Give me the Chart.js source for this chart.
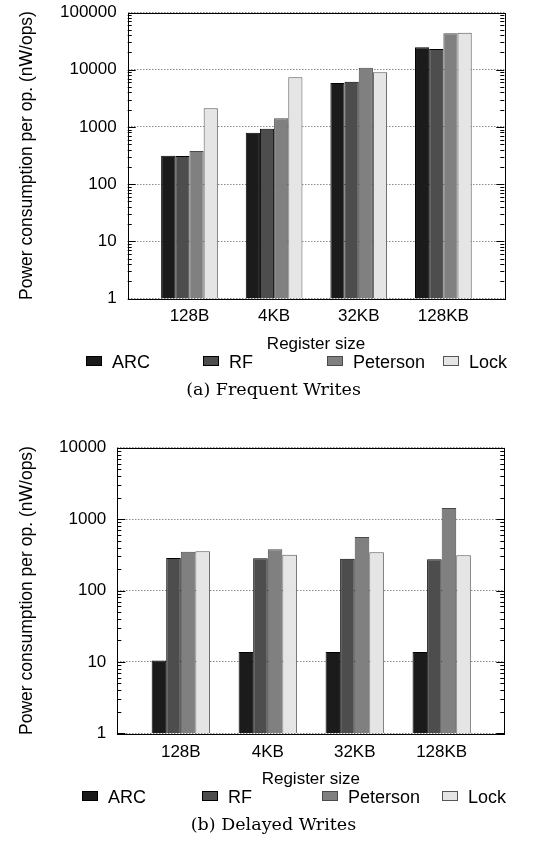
<!DOCTYPE html>
<html>
<head>
<meta charset="utf-8">
<script src="https://cdn.jsdelivr.net/npm/chart.js@4.4.0/dist/chart.umd.min.js"></script>
<style>
  body { margin: 0; background: #fff; }
  #page { position: relative; width: 547px; height: 850px; font-family: 'Liberation Sans', Arial, sans-serif; }
  canvas { position: absolute; left: 0; }
  .legend { position: absolute; left: 0; width: 547px; height: 20px; font-size: 18px; color: #000; }
  .legend .item { position: absolute; top: 0; white-space: nowrap; line-height: 20px; }
  .legend .box { display: inline-block; width: 14px; height: 8px; border: 1px solid #000; margin-right: 10px; vertical-align: 2px; }
  .caption { position: absolute; left: 0; width: 547px; text-align: center; font-family: 'DejaVu Serif', serif; font-size: 17.5px; color: #000; }
</style>
</head>
<body>
<div id="page">
  <canvas id="chart1" width="547" height="355" style="top:0"></canvas>
  <div class="legend" id="legend1" style="top:352px"></div>
  <div class="caption" style="top:379px">(a) Frequent Writes</div>

  <canvas id="chart2" width="547" height="360" style="top:430px"></canvas>
  <div class="legend" id="legend2" style="top:787px"></div>
  <div class="caption" style="top:814px">(b) Delayed Writes</div>
</div>
<script>
const sizes = ["128B", "4KB", "32KB", "128KB"];
const methods = ["ARC", "RF", "Peterson", "Lock"];

// frequent writes (nW/ops)
const freqARC = [314, 792, 5850, 24600];
const freqRF = [310, 930, 6170, 23000];
const freqPeterson = [379, 1415, 10800, 43300];
const freqLock = [2115, 7360, 9020, 44400];

// delayed writes (nW/ops)
const delARC = [10.5, 13.8, 13.8, 13.8];
const delRF = [285, 282, 279, 274];
const delPeterson = [349, 378, 561, 1430];
const delLock = [354, 317, 343, 311];

const yTicks1 = [1, 10, 100, 1000, 10000, 100000];
const yTicks2 = [1, 10, 100, 1000, 10000];

const fills = ["#1b1b1b", "#4d4d4d", "#808080", "#e5e5e5"];
const edges = ["#000000", "#000000", "#4a4a4a", "#555555"];

Chart.defaults.font.family = "'Liberation Sans', Arial, sans-serif";
Chart.defaults.font.size = 17;
Chart.defaults.color = "#000";

// gnuplot style frame + inner minor ticks
const framePlugin = {
    id: 'frame',
    afterDatasetsDraw(chart) {
        const {ctx, chartArea: a, scales} = chart;
        const y = scales.y;
        ctx.save();
        ctx.strokeStyle = '#000';
        ctx.lineWidth = 1;
        ctx.beginPath();
        let d = y.min;
        while (d < y.max) {
            for (let k = 1; k <= 9; k++) {
                const v = d * k;
                if (v > y.max) break;
                const py = Math.round(y.getPixelForValue(v)) + 0.5;
                const len = k === 1 ? 8 : 4;
                ctx.moveTo(a.left, py); ctx.lineTo(a.left + len, py);
                ctx.moveTo(a.right, py); ctx.lineTo(a.right - len, py);
            }
            d *= 10;
        }
        ctx.stroke();
        ctx.strokeRect(Math.round(a.left) + 0.5, Math.round(a.top) + 0.5,
            Math.round(a.right - a.left), Math.round(a.bottom - a.top));
        ctx.restore();
    }
};

function makeChart(id, series, yTicks, opts) {
    const ctx = document.getElementById(id).getContext("2d");
    const datasets = series.map((vals, i) => ({
        label: methods[i],
        data: vals.map((v, j) => ({x: j, y: v})),
        backgroundColor: fills[i],
        borderColor: edges[i],
        borderWidth: 1,
        barPercentage: 1.0,
        categoryPercentage: 0.67,
    }));
    return new Chart(ctx, {
        type: 'bar',
        data: {datasets},
        plugins: [framePlugin],
        options: {
            responsive: false,
            animation: false,
            layout: {padding: {left: 16.5, right: 42.7, top: opts.top, bottom: 0}},
            plugins: {legend: {display: false}, tooltip: {enabled: false}},
            scales: {
                x: {
                    type: 'linear',
                    offset: false,
                    bounds: 'ticks',
                    min: -0.73,
                    max: 3.72,
                    grid: {display: false, drawTicks: false},
                    border: {display: false},
                    afterBuildTicks: (s) => { s.ticks = sizes.map((_, i) => ({value: i})); },
                    afterFit: (s) => { s.height = opts.xHeight; },
                    ticks: {
                        autoSkip: false,
                        maxRotation: 0,
                        padding: opts.xPad,
                        callback: (v) => sizes[v],
                    },
                    title: {display: true, text: 'Register size', padding: 0},
                },
                y: {
                    type: 'logarithmic',
                    min: yTicks[0],
                    max: yTicks[yTicks.length - 1],
                    afterBuildTicks: (s) => { s.ticks = yTicks.map(v => ({value: v})); },
                    afterFit: (s) => {
                        s.width = opts.yWidth;
                        s.paddingTop = 0;
                        s.paddingBottom = 0;
                    },
                    grid: {
                        color: '#8a8a8a',
                        lineWidth: 1,
                        drawTicks: false,
                    },
                    border: {display: false, dash: [1.5, 1.5]},
                    ticks: {
                        autoSkip: false,
                        padding: 11,
                        callback: (v) => String(v),
                    },
                    title: {display: true, text: 'Power consumption per op. (nW/ops)', padding: 0, font: {size: 17.5}},
                },
            },
        },
    });
}

function makeLegend(id, lefts) {
    const el = document.getElementById(id);
    methods.forEach((m, i) => {
        const item = document.createElement('div');
        item.className = 'item';
        item.style.left = lefts[i] + 'px';
        item.innerHTML = '<span class="box" style="background:' + fills[i] + ';border-color:' + edges[i] + '"></span>' + m;
        el.appendChild(item);
    });
}

makeChart("chart1", [freqARC, freqRF, freqPeterson, freqLock], yTicks1,
    {top: 12.5, xHeight: 56.5, xPad: 8, yWidth: 111.2});
makeChart("chart2", [delARC, delRF, delPeterson, delLock], yTicks2,
    {top: 17.7, xHeight: 56.7, xPad: 9, yWidth: 100.8});

makeLegend("legend1", [86, 203, 327, 443]);
makeLegend("legend2", [82, 202, 322, 442]);
</script>
</body>
</html>
